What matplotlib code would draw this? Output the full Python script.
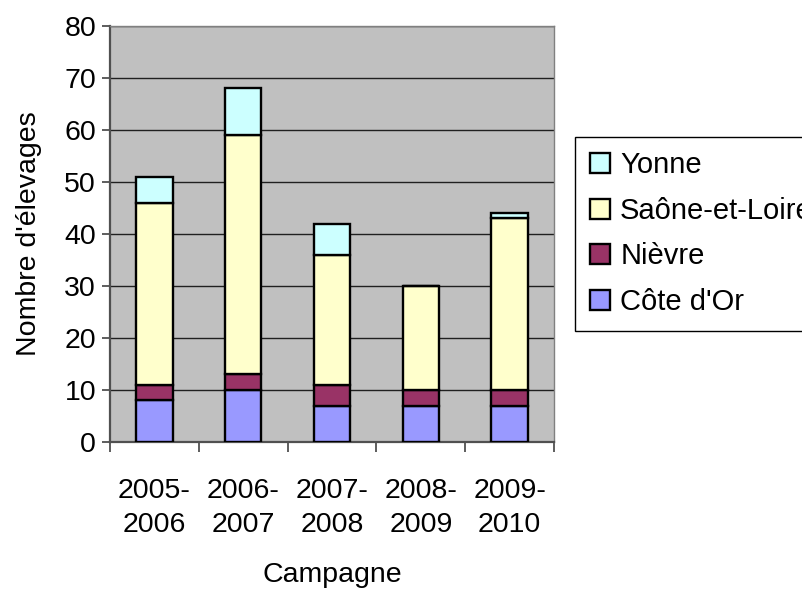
import matplotlib.pyplot as plt
import numpy as np

plt.rcParams['font.family'] = ['Liberation Sans', 'DejaVu Sans']

campagnes = ['2005-\n2006', '2006-\n2007', '2007-\n2008', '2008-\n2009', '2009-\n2010']
cote_dor = [8, 10, 7, 7, 7]
nievre = [3, 3, 4, 3, 3]
saone_et_loire = [35, 46, 25, 20, 33]
yonne = [5, 9, 6, 0, 1]

series = [
    ("Côte d'Or", cote_dor, '#9999FF'),
    ('Nièvre', nievre, '#993366'),
    ('Saône-et-Loire', saone_et_loire, '#FFFFCC'),
    ('Yonne', yonne, '#CCFFFF'),
]

fs = 20.5

fig = plt.figure(figsize=(8.03, 5.9), dpi=100)
ax = fig.add_axes([0.137, 0.251, 0.553, 0.705])
ax.set_facecolor('#C0C0C0')

x = np.arange(len(campagnes))
bottom = np.zeros(len(campagnes))
handles = []
for name, vals, color in series:
    vals = np.array(vals, dtype=float)
    h = ax.bar(x, vals, width=0.41, bottom=bottom, color=color,
               edgecolor='black', linewidth=1.7, label=name, zorder=3)
    handles.append(h)
    bottom += vals

ax.set_xlim(-0.5, len(campagnes) - 0.5)
ax.set_ylim(0, 80)
ax.set_yticks(range(0, 81, 10))
ax.yaxis.grid(True, color='#202020', linewidth=1.0, zorder=0)
ax.set_axisbelow(True)

ax.set_xticks(x)
ax.set_xticklabels(campagnes, fontsize=fs, linespacing=1.4)
ax.set_xticks(np.arange(-0.5, len(campagnes)), minor=True)
ax.tick_params(axis='x', which='major', length=0, pad=26)
ax.tick_params(axis='x', which='minor', length=7, width=1.3, color='#505050')
ax.tick_params(axis='y', labelsize=fs, length=6, width=1.3, color='#505050', pad=4)

for side in ['left', 'bottom']:
    ax.spines[side].set_color('#505050')
    ax.spines[side].set_linewidth(1.6)
for side in ['top', 'right']:
    ax.spines[side].set_color('#808080')
    ax.spines[side].set_linewidth(1.0)

ax.set_ylabel("Nombre d'élevages", fontsize=fs, labelpad=16)
ax.set_xlabel('Campagne', fontsize=fs, labelpad=17)

fig.legend(handles[::-1], [s[0] for s in series][::-1], loc='upper left',
           bbox_to_anchor=(0.716, 0.768), borderaxespad=0, fontsize=21,
           frameon=True, fancybox=False, edgecolor='black',
           handlelength=0.7, handleheight=0.7, handletextpad=0.35,
           labelspacing=0.6, borderpad=0.5, framealpha=1)

fig.savefig('out.png', dpi=100)
